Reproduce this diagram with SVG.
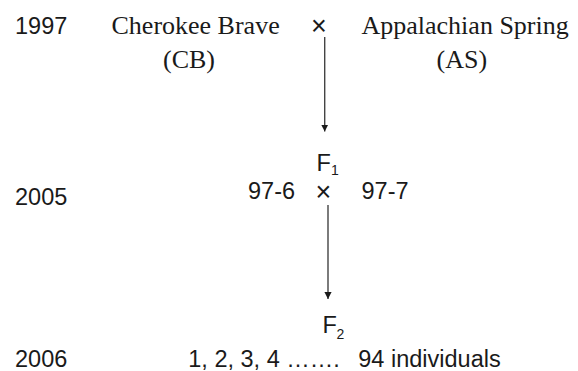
<svg xmlns="http://www.w3.org/2000/svg" width="578" height="371" viewBox="0 0 578 371">
  <style>
    .sans { font-family: "Liberation Sans", Arial, sans-serif; font-size: 23.5px; fill: #1a1a1a; }
    .serif { font-family: "Liberation Serif", "Times New Roman", serif; font-size: 26px; fill: #1a1a1a; }
    .cross { font-family: "Liberation Sans", Arial, sans-serif; font-size: 27px; fill: #1a1a1a; text-anchor: middle; }
    .sub { font-family: "Liberation Sans", Arial, sans-serif; font-size: 14px; fill: #1a1a1a; }
    .link { stroke: #444; stroke-width: 1.4; fill: none; }
  </style>
  <defs>
    <marker id="arrowhead" markerUnits="userSpaceOnUse" markerWidth="8" markerHeight="8" refX="7" refY="4" orient="auto">
      <path d="M0,0.4 L7,4 L0,7.6 Z" fill="#1a1a1a"/>
    </marker>
  </defs>

  <rect width="578" height="371" fill="#ffffff"/>

  <!-- years -->
  <g id="years">
    <text class="sans" x="15" y="33.5">1997</text>
    <text class="sans" x="15" y="204.5">2005</text>
    <text class="sans" x="15" y="367">2006</text>
  </g>

  <!-- parental cross -->
  <g id="parent-cb">
    <text class="serif" x="111.5" y="33.5">Cherokee Brave</text>
    <text class="serif" x="163" y="68">(CB)</text>
  </g>
  <text class="cross" x="319" y="35">×</text>
  <g id="parent-as">
    <text class="serif" x="361.5" y="33.5">Appalachian Spring</text>
    <text class="serif" x="436.5" y="68">(AS)</text>
  </g>

  <!-- F1 generation -->
  <g id="f1">
    <text class="sans" x="316.5" y="170.5">F</text>
    <text class="sub" x="331" y="175">1</text>
    <text class="sans" x="248" y="199">97-6</text>
    <text class="cross" x="323.3" y="201">×</text>
    <text class="sans" x="361.5" y="199">97-7</text>
  </g>

  <!-- F2 generation -->
  <g id="f2">
    <text class="sans" x="322.5" y="333">F</text>
    <text class="sub" x="336.5" y="339">2</text>
    <text class="sans" x="188.3" y="367">1, 2, 3, 4 ……. <tspan x="358.3">94 individuals</tspan></text>
  </g>

  <!-- connectors -->
  <g id="connectors">
    <line class="link" x1="324.7" y1="37" x2="324.7" y2="131.5" marker-end="url(#arrowhead)"/>
    <line class="link" x1="328" y1="205" x2="328" y2="299" marker-end="url(#arrowhead)"/>
  </g>
</svg>
